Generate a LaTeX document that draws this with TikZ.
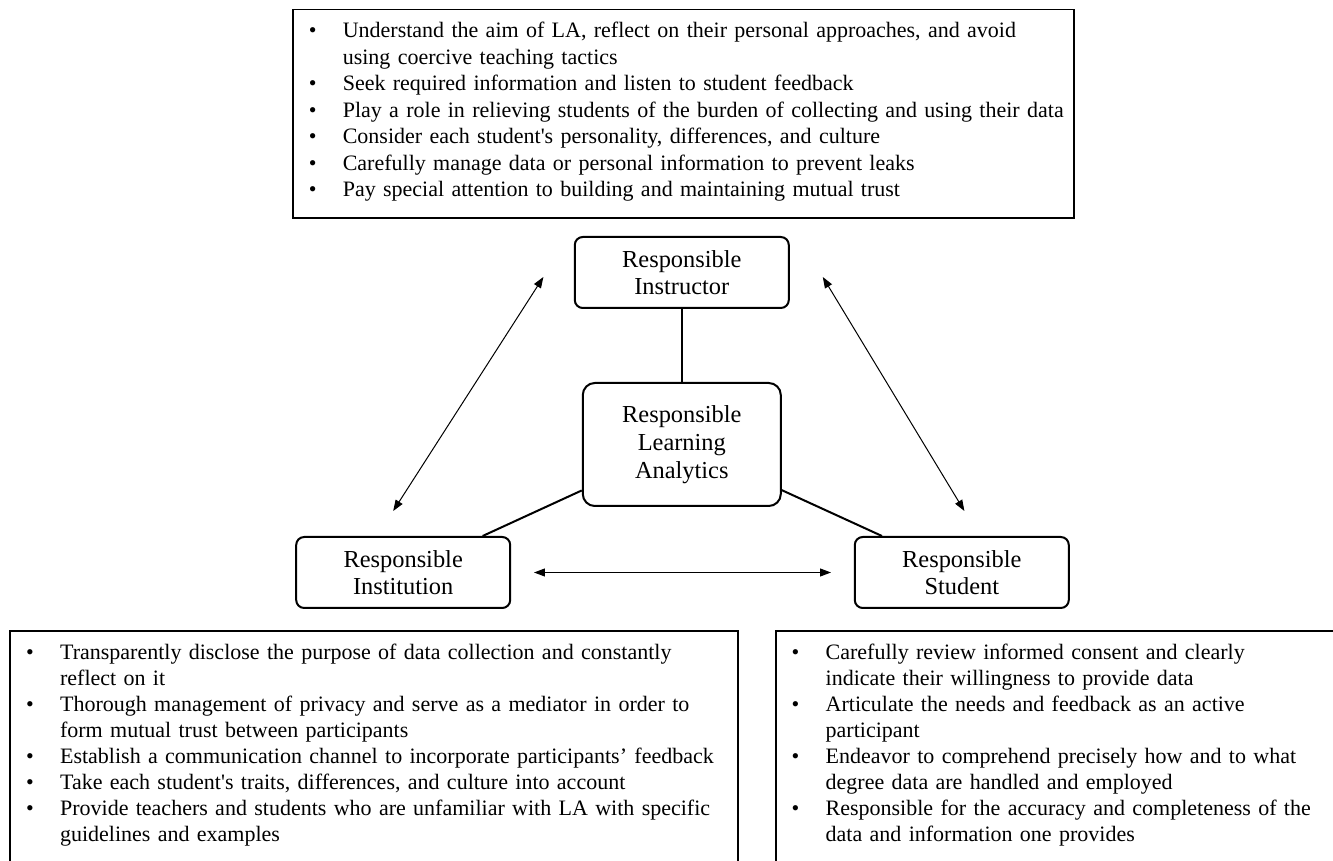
\documentclass[tikz,border=0pt]{standalone}
\usepackage{fontspec}
\setmainfont{Liberation Serif}
\usepackage{tikz}
\usetikzlibrary{arrows.meta, positioning}

\newcommand{\duty}[1]{\rightskip=0pt plus 1fil\relax\hangindent=25pt\hangafter=1\noindent\hspace*{8pt}\makebox[17pt][l]{\textbullet}#1\par}

\begin{document}
\begin{tikzpicture}[
    actor/.style={rectangle, draw, line width=1pt, rounded corners=4pt, minimum width=107pt, minimum height=35.5pt, align=center, font=\fontsize{12.2}{13.4}\selectfont},
    core/.style={actor, rounded corners=6pt, minimum width=99pt, minimum height=61.5pt, font=\fontsize{12.2}{13.9}\selectfont},
    duties/.style={rectangle, draw, line width=0.9pt, inner xsep=0pt, inner ysep=6.5pt, align=left, font=\fontsize{11}{13.25}\selectfont},
    link/.style={line width=1pt},
    arrow/.style={{Triangle[length=5.5pt,width=4pt]}-{Triangle[length=5.5pt,width=4pt]}, line width=0.5pt}
]

\useasboundingbox (-340.9pt,-208.25pt) rectangle (325.6pt,222.25pt);

% Actor nodes
\node[core] (rla) {Responsible\\Learning\\Analytics};
\node[actor, above=36.5pt of rla] (instructor) {Responsible\\Instructor};
\node[actor, below left=14.5pt and 35.3pt of rla] (institution) {Responsible\\Institution};
\node[actor, below right=14.5pt and 36pt of rla] (student) {Responsible\\Student};

% Duty lists
\node[duties, text width=390.5pt, above=8.6pt of instructor, xshift=0.75pt] (instrduties) {%
\duty{Understand the aim of LA, reflect on their personal approaches, and avoid\newline using coercive teaching tactics}
\duty{Seek required information and listen to student feedback}
\duty{Play a role in relieving students of the burden of collecting and using their data}
\duty{Consider each student\textquotesingle s personality, differences, and culture}
\duty{Carefully manage data or personal information to prevent leaks}
\duty{Pay special attention to building and maintaining mutual trust\strut}};
\node[duties, font=\fontsize{11}{13}\selectfont, text width=364pt, below=10.5pt of institution.south west, anchor=north west, xshift=-143pt] (instduties) {%
\duty{Transparently disclose the purpose of data collection and constantly\newline reflect on it}
\duty{Thorough management of privacy and serve as a mediator in order to\newline form mutual trust between participants}
\duty{Establish a communication channel to incorporate participants’ feedback}
\duty{Take each student\textquotesingle s traits, differences, and culture into account}
\duty{Provide teachers and students who are unfamiliar with LA with specific\newline guidelines and examples}
\noindent\rule{0pt}{24pt}};
\node[duties, font=\fontsize{11}{13}\selectfont, text width=285pt, below=10.5pt of student.south west, anchor=north west, xshift=-39.5pt] (studduties) {%
\duty{Carefully review informed consent and clearly\newline indicate their willingness to provide data}
\duty{Articulate the needs and feedback as an active\newline participant}
\duty{Endeavor to comprehend precisely how and to what\newline degree data are handled and employed}
\duty{Responsible for the accuracy and completeness of the\newline data and information one provides}
\noindent\rule{0pt}{24pt}};

% Connections
\draw[link] (instructor) -- (rla);
\draw[link] (rla) -- (institution);
\draw[link] (rla) -- (student);

% Mutual arrows
\coordinate (instrW) at ([shift={(-15.2pt,-2.25pt)}]instructor.west);
\coordinate (instrE) at ([shift={(16.5pt,-2.25pt)}]instructor.east);
\coordinate (instN) at ([shift={(-5pt,12.5pt)}]institution.north);
\coordinate (studN) at ([shift={(1.3pt,12.5pt)}]student.north);
\draw[arrow] (instrW) -- (instN);
\draw[arrow] (instrE) -- (studN);
\draw[arrow, shorten <=11.4pt, shorten >=11.4pt] (institution) -- (student);

\end{tikzpicture}
\end{document}
